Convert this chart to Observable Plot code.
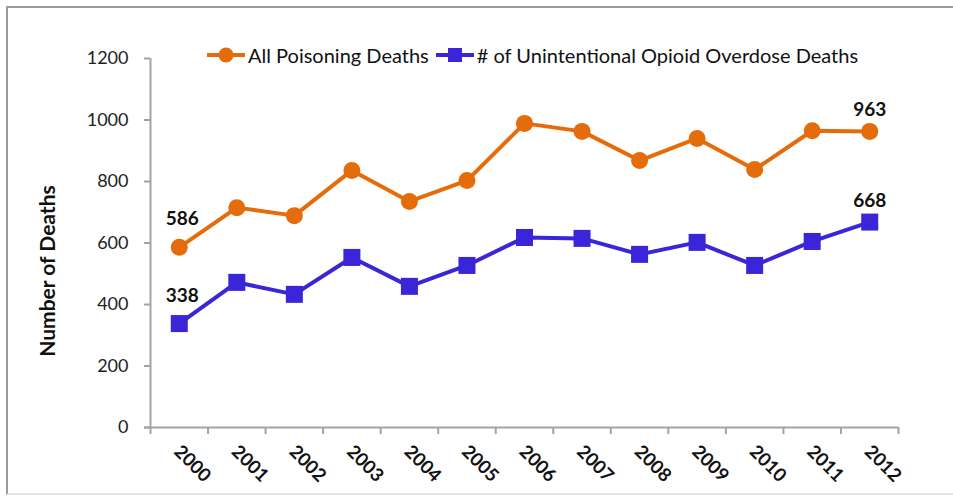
<!DOCTYPE html>
<html>
<head>
<meta charset="utf-8">
<script src="https://cdn.jsdelivr.net/npm/d3@7"></script>
<script src="https://cdn.jsdelivr.net/npm/@observablehq/plot@0.6"></script>
<style>
  html, body { margin: 0; padding: 0; background: #fff; }
  #wrap { position: relative; width: 953px; height: 498px; overflow: hidden; font-family: Lato, "Open Sans", sans-serif; }
  #frame { position: absolute; left: 6px; top: 6px; width: 960px; height: 489px; border: 2px solid #9a9a9a; border-bottom-color: #e4e4e4; box-sizing: border-box; pointer-events: none; }
  #legend { position: absolute; top: 43px; left: 206px; display: flex; align-items: center; font-size: 20px; color: #111; white-space: nowrap; }
  #legend .item { display: flex; align-items: center; margin-right: 6px; }
  #legend svg { margin-right: 2px; }
</style>
</head>
<body>
<div id="wrap">
  <div id="chart"></div>
  <div id="legend"></div>
  <div id="frame"></div>
</div>
<script>
// Annual deaths, 2000–2012
const years = [2000, 2001, 2002, 2003, 2004, 2005, 2006, 2007, 2008, 2009, 2010, 2011, 2012];
const allPoisoning = [586, 715, 689, 836, 735, 803, 989, 963, 868, 940, 839, 965, 963];
const opioidOverdose = [338, 472, 433, 553, 459, 527, 618, 615, 563, 602, 527, 605, 668];
const yTicks = [0, 200, 400, 600, 800, 1000, 1200];

const seriesNames = ["All Poisoning Deaths", "# of Unintentional Opioid Overdose Deaths"];
const colors = ["#E46C0A", "#3A26D8"];
const symbols = ["circle", "square"];

const rows = [
  ...years.map((year, i) => ({year, value: allPoisoning[i], series: seriesNames[0]})),
  ...years.map((year, i) => ({year, value: opioidOverdose[i], series: seriesNames[1]}))
];
const first = rows.filter(d => d.year === years[0]);
const last = rows.filter(d => d.year === years[years.length - 1]);

// category boundaries for the x tick marks
const bounds = [years[0] - 0.5, ...years.map(y => y + 0.5)];
const axisGray = "#a3a3a3";

const chart = Plot.plot({
  width: 953,
  height: 498,
  marginLeft: 150,
  marginRight: 55,
  marginTop: 58,
  marginBottom: 71,
  style: {fontFamily: "Lato, 'Open Sans', sans-serif", background: "#fff"},
  x: {type: "linear", domain: [years[0] - 0.5, years[years.length - 1] + 0.5]},
  y: {domain: [0, 1200]},
  color: {domain: seriesNames, range: colors},
  symbol: {domain: seriesNames, range: symbols},
  marks: [
    Plot.axisY({ticks: yTicks, tickFormat: d => String(d), tickSize: 6, tickPadding: 16, stroke: axisGray, strokeWidth: 2, fontSize: 18, color: "#222", label: null}),
    Plot.axisX({ticks: bounds, tickSize: 7, tickFormat: () => "", stroke: axisGray, strokeWidth: 2, label: null}),
    Plot.ruleY([0], {stroke: axisGray, strokeWidth: 2, insetLeft: -6}),
    Plot.ruleX([years[0] - 0.5], {stroke: axisGray, strokeWidth: 2}),
    Plot.text(years, {x: d => d, y: 0, text: d => String(d), rotate: 45, textAnchor: "start", dy: 21, dx: -2, fontSize: 18.5, fontWeight: "bold", fill: "#111"}),
    Plot.text(["Number of Deaths"], {frameAnchor: "left", textAnchor: "middle", dx: -102, dy: 28, rotate: -90, fontSize: 21, fontWeight: "bold", fill: "#111"}),
    Plot.line(rows, {x: "year", y: "value", z: "series", stroke: "series", strokeWidth: 4}),
    Plot.dot(rows.filter(d => d.series === seriesNames[0]), {x: "year", y: "value", fill: "series", r: 8.5, symbol: "series"}),
    Plot.dot(rows.filter(d => d.series === seriesNames[1]), {x: "year", y: "value", fill: "series", r: 9.6, symbol: "series"}),
    Plot.text(first, {x: "year", y: "value", text: d => String(d.value), dy: -28, dx: 3, fontSize: 19, fontWeight: "bold", fill: "#111"}),
    Plot.text(last, {x: "year", y: "value", text: d => String(d.value), dy: -21, fontSize: 19, fontWeight: "bold", fill: "#111"})
  ]
});
document.getElementById("chart").appendChild(chart);

// legend: line segment with marker, then series name
const legend = d3.select("#legend");
seriesNames.forEach((name, i) => {
  const item = legend.append("div").attr("class", "item");
  const sw = item.append("svg").attr("width", 40).attr("height", 22);
  sw.append("line").attr("x1", 1).attr("x2", 39).attr("y1", 11).attr("y2", 11)
    .attr("stroke", colors[i]).attr("stroke-width", 4);
  if (symbols[i] === "circle") {
    sw.append("circle").attr("cx", 20).attr("cy", 11).attr("r", 7.5).attr("fill", colors[i]);
  } else {
    sw.append("rect").attr("x", 13).attr("y", 4).attr("width", 14).attr("height", 14).attr("fill", colors[i]);
  }
  item.append("span").text(name);
});
</script>
</body>
</html>
